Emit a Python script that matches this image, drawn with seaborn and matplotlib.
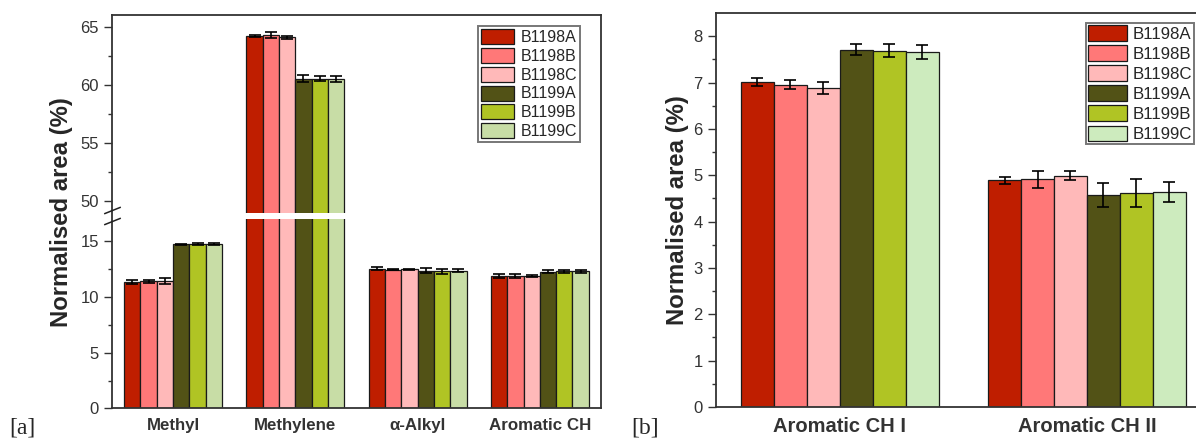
import numpy as np
import pandas as pd
import matplotlib
matplotlib.use("Agg")
import matplotlib.pyplot as plt
from matplotlib.container import BarContainer
import seaborn as sns

# ---- data ----
samples = ["B1198A", "B1198B", "B1198C", "B1199A", "B1199B", "B1199C"]

groups_a = ["Methyl", "Methylene", "α-Alkyl", "Aromatic CH"]
# rows: samples, cols: groups
vals_a = [
    [11.35, 64.19, 12.55, 11.90],
    [11.40, 64.28, 12.45, 11.87],
    [11.46, 64.08, 12.50, 11.90],
    [14.74, 60.50, 12.38, 12.29],
    [14.78, 60.52, 12.30, 12.31],
    [14.78, 60.50, 12.36, 12.30],
]
err_a = [
    [0.15, 0.10, 0.15, 0.15],
    [0.10, 0.25, 0.05, 0.18],
    [0.25, 0.15, 0.05, 0.08],
    [0.05, 0.30, 0.25, 0.15],
    [0.10, 0.20, 0.25, 0.15],
    [0.10, 0.25, 0.15, 0.10],
]

groups_b = ["Aromatic CH I", "Aromatic CH II"]
vals_b = [
    [7.01, 4.89],
    [6.95, 4.91],
    [6.89, 4.99],
    [7.71, 4.58],
    [7.69, 4.62],
    [7.66, 4.64],
]
err_b = [
    [0.09, 0.07],
    [0.10, 0.18],
    [0.13, 0.10],
    [0.12, 0.26],
    [0.15, 0.30],
    [0.15, 0.21],
]

colors_a = ["#BF1E00", "#FF7878", "#FFB9B9", "#525216", "#B0C424", "#C8DDA6"]
colors_b = ["#BF1E00", "#FF7878", "#FFB9B9", "#525216", "#B0C424", "#CDEBBE"]

# axis break (panel a)
brk_lo, brk_hi = 17.0, 48.9


def to_long(groups, vals):
    rows = []
    for s, row in zip(samples, vals):
        for g, v in zip(groups, row):
            rows.append({"group": g, "sample": s, "value": v})
    return pd.DataFrame(rows)


sns.set_style("ticks")
plt.rcParams["font.family"] = ["Liberation Sans", "DejaVu Sans"]
plt.rcParams["axes.edgecolor"] = "#333333"
plt.rcParams["xtick.color"] = "#333333"
plt.rcParams["ytick.color"] = "#333333"

fig = plt.figure(figsize=(11.96, 4.40), dpi=100)
ax_a = fig.add_axes([0.0936, 0.0716, 0.4089, 0.8943])
ax_b = fig.add_axes([0.5987, 0.0750, 0.4135, 0.8955])


def bar_conts(ax):
    return [c for c in ax.containers if isinstance(c, BarContainer)]


def draw_bars(ax, groups, vals, errs, colors):
    df = to_long(groups, vals)
    sns.barplot(data=df, x="group", y="value", hue="sample", hue_order=samples,
                palette=colors, saturation=1, errorbar=None, width=0.8,
                edgecolor="#1a1a1a", linewidth=0.9, legend=False, ax=ax)
    for cont, e in zip(bar_conts(ax), errs):
        xs = [p.get_x() + p.get_width() / 2 for p in cont.patches]
        hs = [p.get_height() for p in cont.patches]
        ax.errorbar(xs, hs, yerr=e, fmt="none", ecolor="black", elinewidth=1.2,
                    capsize=4.3, capthick=1.2, zorder=3)
    ax.set_xlabel("")
    for s in ax.spines.values():
        s.set_visible(True)
        s.set_linewidth(1.3)
    ax.tick_params(axis="y", which="major", direction="out", length=5.5, width=1,
                   labelsize=12, pad=4)
    ax.tick_params(axis="y", which="minor", direction="out", length=3, width=1)
    ax.tick_params(axis="x", length=0, pad=7)


# ---- panel a (broken y axis) ----
draw_bars(ax_a, groups_a, vals_a, err_a, colors_a)
gap = 0.52
slope = 1.041
fx = [-1000, brk_lo, brk_hi, 1000]
fy = [-1000, brk_lo, brk_lo + gap, brk_lo + gap + (1000 - brk_hi) * slope]
ax_a.set_yscale("function", functions=(lambda v: np.interp(v, fx, fy),
                                       lambda t: np.interp(t, fy, fx)))
ax_a.set_ylim(0, 66)
ax_a.set_xlim(-0.5, 3.5)
ax_a.set_yticks([0, 5, 10, 15, 50, 55, 60, 65])
ax_a.set_yticks([2.5, 7.5, 12.5, 52.5, 57.5, 62.5], minor=True)
ax_a.set_yticklabels(["0", "5", "10", "15", "50", "55", "60", "65"])
ax_a.axhspan(brk_lo, brk_hi, color="white", zorder=2.3, lw=0)
ax_a.plot([0, 0], [brk_lo - 0.15, brk_hi + 0.3], transform=ax_a.get_yaxis_transform(),
          marker=[(-1, -0.4), (1, 0.4)], markersize=12, linestyle="none",
          color="#222222", mec="#222222", mew=1.1, clip_on=False, zorder=4)
for lab in ax_a.get_xticklabels():
    lab.set_fontweight("bold")
    lab.set_fontsize(12.2)
ax_a.set_ylabel("Normalised area (%)", fontsize=17.2, fontweight="bold")
ax_a.yaxis.set_label_coords(-0.080, 0.5)
leg_a = ax_a.legend(handles=[c.patches[0] for c in bar_conts(ax_a)], labels=samples,
                    loc="upper right", bbox_to_anchor=(0.957, 0.972), borderaxespad=0,
                    fontsize=11.5, handlelength=2.1, handleheight=1.07, labelspacing=0.18,
                    handletextpad=0.38, borderpad=0.19, fancybox=False, framealpha=1)
leg_a.get_frame().set_edgecolor("#777777")
leg_a.get_frame().set_linewidth(1.4)

# ---- panel b ----
draw_bars(ax_b, groups_b, vals_b, err_b, colors_b)
ax_b.set_ylim(0, 8.5)
ax_b.set_xlim(-0.5, 1.5)
ax_b.set_yticks(np.arange(0, 9, 1))
ax_b.set_yticks(np.arange(0.5, 8.5, 1), minor=True)
for lab in ax_b.get_xticklabels():
    lab.set_fontweight("bold")
    lab.set_fontsize(14.5)
ax_b.set_ylabel("Normalised area (%)", fontsize=17.2, fontweight="bold")
ax_b.yaxis.set_label_coords(-0.055, 0.5)
leg_b = ax_b.legend(handles=[c.patches[0] for c in bar_conts(ax_b)], labels=samples,
                    loc="upper left", bbox_to_anchor=(0.748, 0.975), borderaxespad=0,
                    fontsize=12.2, handlelength=2.3, handleheight=1.07, labelspacing=0.2,
                    handletextpad=0.35, borderpad=0.12, fancybox=False, framealpha=1)
leg_b.get_frame().set_edgecolor("#777777")
leg_b.get_frame().set_linewidth(1.4)

fig.text(0.0075, 0.027, "[a]", fontsize=17, family=["Liberation Serif", "DejaVu Serif"],
         va="center", ha="left")
fig.text(0.528, 0.027, "[b]", fontsize=17, family=["Liberation Serif", "DejaVu Serif"],
         va="center", ha="left")

fig.savefig("out.png", dpi=100)
